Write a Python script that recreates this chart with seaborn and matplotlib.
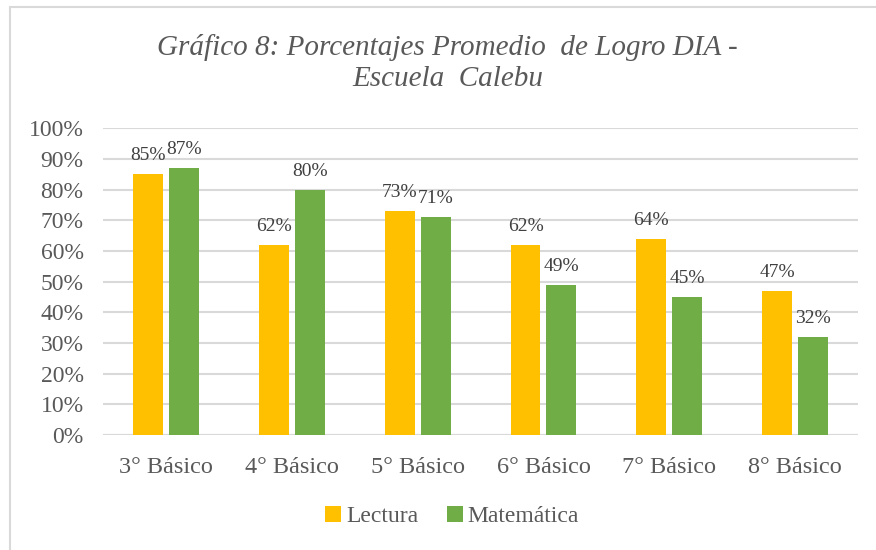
import matplotlib
matplotlib.use("Agg")
import matplotlib.pyplot as plt
import matplotlib.lines as mlines
import matplotlib.patches as mpatches
import seaborn as sns
import pandas as pd

# data
cursos = ['3° Básico', '4° Básico', '5° Básico', '6° Básico', '7° Básico', '8° Básico']
lectura = [0.85, 0.62, 0.73, 0.62, 0.64, 0.47]
matematica = [0.87, 0.80, 0.71, 0.49, 0.45, 0.32]
series = ['Lectura', 'Matemática']
colores = ['#FFC000', '#70AD47']

df = pd.DataFrame({
    'curso': cursos * 2,
    'valor': lectura + matematica,
    'serie': [series[0]] * len(cursos) + [series[1]] * len(cursos),
})

sns.set_theme(style='white')
plt.rcParams['font.family'] = ['Liberation Serif', 'DejaVu Serif']
texto = '#595959'

fig = plt.figure(figsize=(8.76, 5.5), dpi=100)
ax = fig.add_axes([0.1176, 0.209, 0.862, 0.558])

sns.barplot(data=df, x='curso', y='valor', hue='serie', hue_order=series,
            palette=colores, saturation=1, width=0.571, gap=0.167, ax=ax,
            legend=False, edgecolor='none', zorder=3)

ax.set_ylim(0, 1)
ax.set_yticks([i / 10 for i in range(11)])
ax.set_yticklabels([f'{i * 10}%' for i in range(11)])
ax.yaxis.grid(True, color='#D9D9D9', linewidth=1.5, zorder=0)
ax.set_axisbelow(True)
for s in ax.spines.values():
    s.set_visible(False)
ax.axhline(0, color='#D9D9D9', linewidth=1.5, zorder=1)
ax.set_xlabel('')
ax.set_ylabel('')
ax.tick_params(axis='y', length=0, pad=14, labelsize=17, labelcolor=texto)
ax.tick_params(axis='x', length=0, pad=16, labelsize=17.5, labelcolor=texto)

for cont in ax.containers:
    ax.bar_label(cont, labels=[f'{v * 100:.0f}%' for v in cont.datavalues],
                 padding=7, fontsize=14, color='#404040')

# title
fig.text(0.511, 0.886, 'Gráfico 8: Porcentajes Promedio  de Logro DIA -\nEscuela  Calebu',
         ha='center', va='center', fontsize=21, style='italic', color=texto,
         linespacing=1.25)

# legend
handles = [mpatches.Patch(facecolor=c, edgecolor='none', label=l) for c, l in zip(colores, series)]
fig.legend(handles=handles, loc='center', bbox_to_anchor=(0.516, 0.061), ncol=2,
           frameon=False, fontsize=17, labelcolor=texto, handlelength=0.7,
           handleheight=0.7, handletextpad=0.2, columnspacing=1.2)

# chart area border (only top/left visible in the crop)
fig.add_artist(mlines.Line2D([10 / 876, 10 / 876], [0, 1 - 7 / 550], color='#D9D9D9',
                             linewidth=1.5, transform=fig.transFigure))
fig.add_artist(mlines.Line2D([10 / 876, 1], [1 - 7 / 550, 1 - 7 / 550], color='#D9D9D9',
                             linewidth=1.5, transform=fig.transFigure))

fig.savefig('out.png', dpi=100, facecolor='white')
